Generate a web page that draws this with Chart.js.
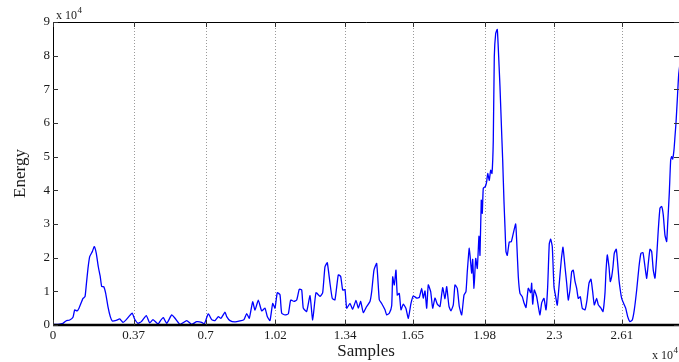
<!DOCTYPE html>
<html>
<head>
<meta charset="utf-8">
<title>Energy</title>
<script src="https://cdn.jsdelivr.net/npm/chart.js@4.4.1/dist/chart.umd.min.js"></script>
<style>
  html, body { margin: 0; padding: 0; background: #fff; }
  #energyChart { display: block; }
</style>
</head>
<body>
<canvas id="energyChart" width="679" height="362"></canvas>
<script>
// sample index of each reading
const SAMPLES = [
  0, 229, 459, 596, 766, 917, 995, 1101, 1193, 1376,
  1468, 1527, 1605, 1683, 1803, 1894, 1986, 2078, 2169, 2234,
  2326, 2417, 2523, 2628, 2720, 2904, 3060, 3211, 3362, 3518,
  3637, 3748, 3899, 4050, 4280, 4436, 4587, 4816, 4954, 5060,
  5216, 5445, 5596, 5825, 6133, 6362, 6592, 6821, 6940, 7124,
  7280, 7431, 7582, 7706, 7890, 7968, 8119, 8348, 8578, 8761,
  8885, 9004, 9160, 9266, 9417, 9573, 9724, 9830, 9954, 10078,
  10183, 10289, 10412, 10490, 10642, 10793, 10903, 11055, 11178, 11298,
  11408, 11481, 11637, 11789, 11912, 12064, 12247, 12371, 12476, 12582,
  12706, 12811, 12935, 13087, 13197, 13289, 13394, 13472, 13623, 13747,
  13899, 14004, 14114, 14234, 14389, 14541, 14619, 14724, 14848, 14967,
  15077, 15229, 15306, 15426, 15536, 15582, 15655, 15733, 15793, 15885,
  15963, 16068, 16192, 16298, 16421, 16527, 16683, 16802, 16912, 16986,
  17064, 17142, 17215, 17325, 17417, 17522, 17628, 17752, 17876, 17981,
  18059, 18165, 18256, 18362, 18440, 18545, 18637, 18747, 18853, 18944,
  19004, 19096, 19206, 19252, 19312, 19390, 19463, 19541, 19587, 19646,
  19692, 19738, 19830, 19894, 19940, 20013, 20077, 20137, 20197, 20243,
  20307, 20380, 20444, 20504, 20582, 20628, 20688, 20733, 20779, 20839,
  20931, 21022, 21114, 21224, 21270, 21344, 21421, 21527, 21605, 21697,
  21802, 21912, 21958, 22004, 22077, 22187, 22261, 22339, 22417, 22522,
  22614, 22692, 22765, 22830, 22903, 22981, 23059, 23132, 23224, 23316,
  23394, 23486, 23564, 23637, 23715, 23793, 23866, 23944, 24022, 24096,
  24188, 24279, 24403, 24495, 24586, 24678, 24756, 24829, 24939, 25013,
  25137, 25229, 25320, 25366, 25426, 25504, 25564, 25628, 25688, 25747,
  25839, 25903, 25963, 26022, 26086, 26178, 26270, 26362, 26467, 26573,
  26665, 26775, 26880, 26972, 27064, 27156, 27234, 27307, 27385, 27463,
  27536, 27614, 27692, 27765, 27843, 27921, 27994, 28072, 28150, 28196,
  28270, 28334, 28380, 28426, 28486, 28531, 28577, 28637, 28701, 28807
];

// short-time energy at each sample
const ENERGY = [
  200, 200, 500, 1200, 1500, 2300, 4500, 4200, 5000, 7900,
  8400, 11900, 16800, 20300, 21800, 23300, 21300, 17300, 14300, 11400,
  11400, 9400, 5400, 2500, 1200, 1400, 1800, 800, 1600, 2800,
  3500, 1700, 500, 1000, 2800, 600, 1600, 300, 1500, 2200,
  500, 3000, 2000, 200, 1300, 200, 1000, 800, 300, 3300,
  1600, 1300, 2500, 2000, 3800, 2500, 1300, 900, 1200, 1600,
  3400, 2000, 6900, 4400, 7400, 4200, 5000, 2500, 1300, 6400,
  5000, 9600, 9000, 3500, 3000, 3300, 7400, 7000, 7400, 10600,
  10400, 5000, 4000, 8700, 1500, 9600, 8500, 9600, 17300, 18500,
  12400, 7900, 7500, 14900, 14400, 10400, 10500, 5000, 6400, 4700,
  7300, 5000, 7000, 3700, 5500, 7000, 9900, 16300, 18300, 7500,
  6400, 4500, 3000, 3500, 5700, 14300, 11900, 16300, 8900, 9400,
  4500, 6200, 4900, 2000, 6400, 8600, 8000, 8200, 10900, 8000,
  10100, 5000, 11900, 9900, 5000, 8000, 6200, 5500, 11100, 7800,
  11400, 5500, 4200, 6000, 11900, 10900, 5500, 3000, 8900, 9900,
  15800, 22800, 15400, 19500, 10900, 19800, 16800, 26400, 20700, 37100,
  33200, 40600, 41100, 42600, 45000, 43000, 46000, 45000, 54900, 79700,
  86600, 87800, 79700, 70800, 56900, 49000, 36600, 29200, 21800, 20700,
  24700, 24700, 27200, 30000, 25000, 14400, 9400, 8400, 6600, 5200,
  10900, 9600, 12400, 6200, 10400, 8400, 5600, 3000, 6600, 7900,
  4500, 11400, 24100, 25500, 23300, 11400, 8400, 5900, 12400, 19300,
  23100, 17300, 12400, 7400, 10400, 15800, 16300, 13000, 10900, 7900,
  8400, 5000, 4500, 7400, 12400, 13600, 9900, 6000, 7900, 6000,
  5000, 4000, 9400, 15800, 20800, 17300, 12900, 14400, 17300, 21300,
  22500, 18300, 13400, 10400, 7900, 6400, 5000, 2500, 1000, 1500,
  4500, 10400, 17300, 21300, 21500, 17300, 13900, 18300, 22500, 21800,
  16300, 13900, 20300, 28200, 34700, 35200, 32700, 26700, 24800, 30000,
  39100, 49000, 50000, 49300, 52000, 55900, 59900, 66800, 74300, 80000
];

const X_TICKS = [0, 3700, 7000, 10200, 13400, 16500, 19800, 23000, 26100];
const X_TICK_LABELS = ['0', '0.37', '0.7', '1.02', '1.34', '1.65', '1.98', '2.3', '2.61'];
const Y_TICKS = [0, 10000, 20000, 30000, 40000, 50000, 60000, 70000, 80000, 90000];
const X_MAX = 28716;
const Y_MAX = 90000;
const EXP_BASE = 10000;   // axis labels are shown as multiples of 10^4

const SERIF = "'Liberation Serif', 'DejaVu Serif', serif";
const INK = '#1a1a1a';

// grid, axis frame, inward tick marks and the "x 10^4" multipliers
const matlabAxes = {
    id: 'matlabAxes',
    beforeDatasetsDraw(chart) {
        const { ctx, chartArea: a, scales: { x } } = chart;
        ctx.save();
        ctx.strokeStyle = '#9a9a9a';
        ctx.lineWidth = 1;
        ctx.setLineDash([1, 2]);
        X_TICKS.forEach(v => {
            if (v === 0) return;
            const px = Math.round(x.getPixelForValue(v)) + 0.5;
            ctx.beginPath();
            ctx.moveTo(px, a.top);
            ctx.lineTo(px, a.bottom);
            ctx.stroke();
        });
        ctx.restore();
    },
    afterDatasetsDraw(chart) {
        const { ctx, chartArea: a, scales: { x, y } } = chart;
        const tickLen = 5;
        ctx.save();
        ctx.strokeStyle = '#000';

        // frame
        ctx.lineWidth = 1;
        ctx.beginPath();
        ctx.moveTo(a.left + 0.5, a.bottom);
        ctx.lineTo(a.left + 0.5, a.top + 0.5);
        ctx.lineTo(a.right, a.top + 0.5);
        ctx.stroke();
        ctx.lineWidth = 2.5;
        ctx.beginPath();
        ctx.moveTo(a.left, a.bottom);
        ctx.lineTo(a.right, a.bottom);
        ctx.stroke();

        // inward ticks
        ctx.lineWidth = 1;
        ctx.strokeStyle = '#333';
        ctx.beginPath();
        Y_TICKS.forEach(v => {
            const py = Math.round(y.getPixelForValue(v)) + 0.5;
            ctx.moveTo(a.left, py);
            ctx.lineTo(a.left + tickLen, py);
            ctx.moveTo(a.right, py);
            ctx.lineTo(a.right - tickLen, py);
        });
        X_TICKS.forEach(v => {
            const px = Math.round(x.getPixelForValue(v)) + 0.5;
            ctx.moveTo(px, a.bottom);
            ctx.lineTo(px, a.bottom - tickLen);
            ctx.moveTo(px, a.top);
            ctx.lineTo(px, a.top + tickLen);
        });
        ctx.stroke();

        // exponent labels
        ctx.fillStyle = INK;
        ctx.textBaseline = 'alphabetic';
        const drawExp = (xPos, yPos) => {
            ctx.font = '12px ' + SERIF;
            ctx.fillText('x 10', xPos, yPos);
            const w = ctx.measureText('x 10').width;
            ctx.font = '9px ' + SERIF;
            ctx.fillText('4', xPos + w + 0.5, yPos - 6);
        };
        drawExp(a.left + 3, a.top - 3);
        drawExp(a.right - 27, 359);
        ctx.restore();
    }
};

const ctx = document.getElementById('energyChart').getContext('2d');

new Chart(ctx, {
    type: 'line',
    data: {
        datasets: [{
            label: 'Energy',
            data: SAMPLES.map((s, i) => ({ x: s, y: ENERGY[i] })),
            borderColor: '#0000ff',
            borderWidth: 1.3,
            pointRadius: 0,
            tension: 0.15,
            fill: false
        }]
    },
    options: {
        responsive: false,
        animation: false,
        devicePixelRatio: 1,
        layout: { padding: { top: 22, right: 0, left: 0, bottom: 0 } },
        plugins: {
            legend: { display: false },
            tooltip: { enabled: false }
        },
        scales: {
            x: {
                type: 'linear',
                min: 0,
                max: X_MAX,
                afterBuildTicks: s => { s.ticks = X_TICKS.map(v => ({ value: v })); },
                afterFit: s => { s.height = 37; },
                grid: { display: false, drawTicks: false },
                border: { display: false },
                ticks: {
                    autoSkip: false,
                    maxRotation: 0,
                    padding: 3,
                    color: INK,
                    font: { family: SERIF, size: 13 },
                    callback: (v, i) => X_TICK_LABELS[i]
                },
                title: {
                    display: true,
                    text: 'Samples',
                    color: INK,
                    font: { family: SERIF, size: 17 },
                    padding: { top: 0, bottom: 0 }
                }
            },
            y: {
                min: 0,
                max: Y_MAX,
                afterBuildTicks: s => { s.ticks = Y_TICKS.map(v => ({ value: v })); },
                afterFit: s => { s.width = 53; },
                grid: { display: false, drawTicks: false },
                border: { display: false },
                ticks: {
                    padding: 3,
                    color: INK,
                    font: { family: SERIF, size: 13 },
                    callback: v => String(v / EXP_BASE)
                },
                title: {
                    display: true,
                    text: 'Energy',
                    color: INK,
                    font: { family: SERIF, size: 17 },
                    padding: { top: 10, bottom: 0 }
                }
            }
        }
    },
    plugins: [matlabAxes]
});
</script>
</body>
</html>
